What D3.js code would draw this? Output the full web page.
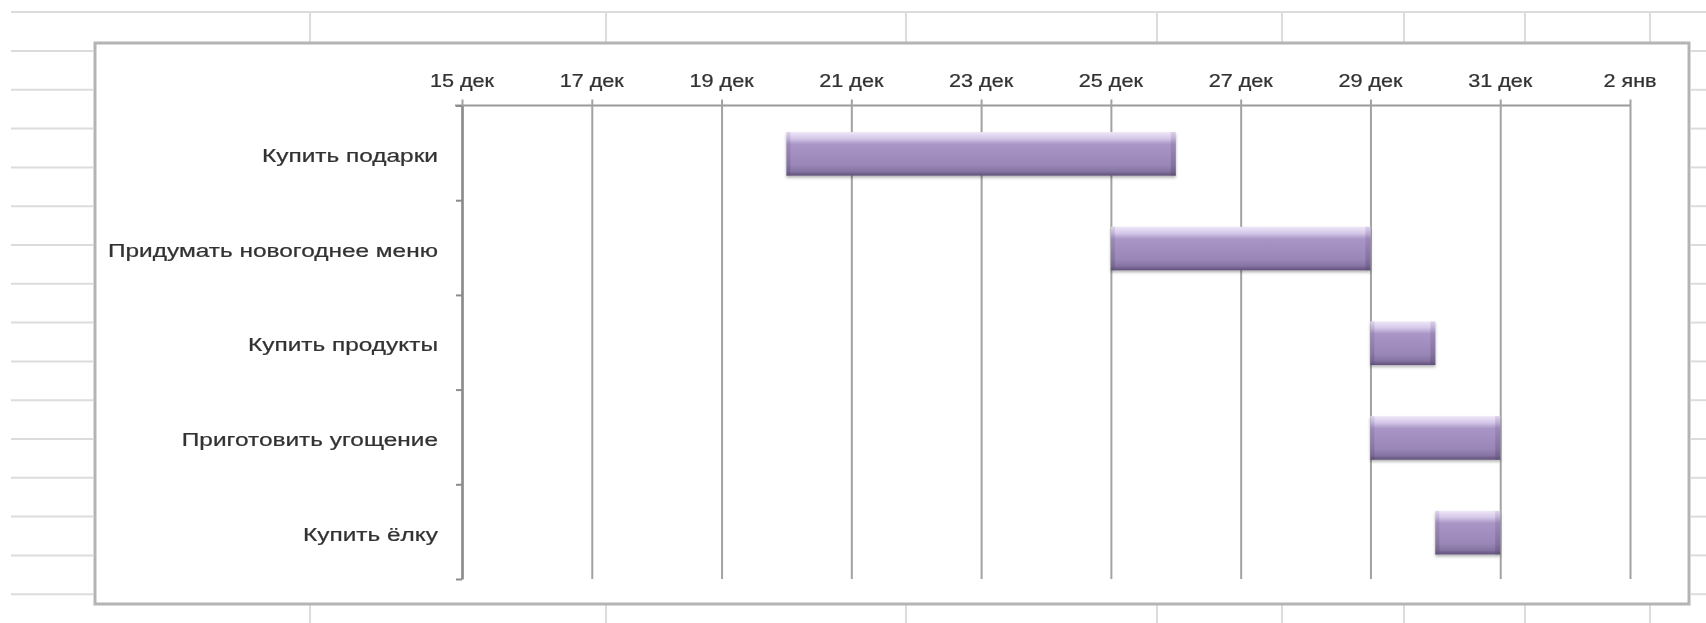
<!DOCTYPE html>
<html lang="ru">
<head>
    <meta charset="UTF-8">
    <title>Новогодний план</title>
    <script src="https://d3js.org/d3.v7.min.js"></script>
    <style>
        body { margin: 0; background: #fff; }
        text { font-family: "Liberation Sans", Arial, sans-serif; fill: #333; stroke: #333; stroke-width: 0.25; }
    </style>
</head>
<body>
    <svg width="1706" height="623"></svg>

    <script>
        // Tasks (top to bottom), start dates and durations in days
        const tasks = ["Купить подарки", "Придумать новогоднее меню", "Купить продукты", "Приготовить угощение", "Купить ёлку"];
        const startDates = ["2012-12-20", "2012-12-25", "2012-12-29", "2012-12-29", "2012-12-30"];
        const durations = [6, 4, 1, 2, 1];

        // Axis ticks
        const tickDates = ["2012-12-15", "2012-12-17", "2012-12-19", "2012-12-21", "2012-12-23",
                           "2012-12-25", "2012-12-27", "2012-12-29", "2012-12-31", "2013-01-02"];
        const tickLabels = ["15 дек", "17 дек", "19 дек", "21 дек", "23 дек", "25 дек", "27 дек", "29 дек", "31 дек", "2 янв"];

        const parse = d3.timeParse("%Y-%m-%d");
        const ticks = tickDates.map(parse);
        const data = tasks.map((t, i) => {
            const s = parse(startDates[i]);
            return { task: t, start: s, end: d3.timeDay.offset(s, durations[i]) };
        });

        const svg = d3.select("svg");
        const W = 1706, H = 623;

        // spreadsheet look behind the chart
        const frame = { left: 95, top: 43, right: 1689, bottom: 604 };
        const sheet = svg.append("g").attr("stroke", "#dcdcdc").attr("stroke-width", 2);
        sheet.append("line").attr("x1", 11).attr("x2", W).attr("y1", 12).attr("y2", 12);
        const colX = [310, 606, 906, 1157, 1282, 1404, 1525, 1650];
        colX.forEach(x => {
            sheet.append("line").attr("x1", x).attr("x2", x).attr("y1", 12).attr("y2", frame.top);
            sheet.append("line").attr("x1", x).attr("x2", x).attr("y1", frame.bottom).attr("y2", H);
        });
        d3.range(51, frame.bottom, 38.8).forEach(y => {
            sheet.append("line").attr("x1", 11).attr("x2", frame.left - 2).attr("y1", y).attr("y2", y);
            sheet.append("line").attr("x1", frame.right + 2).attr("x2", W).attr("y1", y).attr("y2", y);
        });

        // chart area frame
        svg.append("rect")
            .attr("x", frame.left).attr("y", frame.top)
            .attr("width", frame.right - frame.left).attr("height", frame.bottom - frame.top)
            .attr("fill", "#fff").attr("stroke", "#b4b4b4").attr("stroke-width", 3);

        const defs = svg.append("defs");
        const grad = defs.append("linearGradient").attr("id", "barFill")
            .attr("x1", 0).attr("x2", 0).attr("y1", 0).attr("y2", 1);
        [["0%", "#efe7f8"], ["15%", "#d4c7e8"], ["28%", "#a996c6"], ["75%", "#9a87b8"], ["90%", "#8674a3"], ["100%", "#5f5078"]]
            .forEach(([o, c]) => grad.append("stop").attr("offset", o).attr("stop-color", c));
        const edge = defs.append("linearGradient").attr("id", "barEdge")
            .attr("x1", 0).attr("x2", 0).attr("y1", 0).attr("y2", 1);
        [["0%", "#c9bbdd"], ["25%", "#8f7cad"], ["100%", "#5e5076"]]
            .forEach(([o, c]) => edge.append("stop").attr("offset", o).attr("stop-color", c));
        const shadow = defs.append("filter").attr("id", "shadow")
            .attr("x", "-5%").attr("y", "-20%").attr("width", "110%").attr("height", "150%");
        shadow.append("feDropShadow").attr("dx", 0).attr("dy", 2).attr("stdDeviation", 1.5)
            .attr("flood-color", "#000").attr("flood-opacity", 0.3);
        defs.append("filter").attr("id", "soft")
            .append("feGaussianBlur").attr("stdDeviation", 0.45);

        // scales
        const x = d3.scaleTime()
            .domain([ticks[0], ticks[ticks.length - 1]])
            .range([462, 1630]);
        const y = d3.scaleBand()
            .domain(tasks)
            .range([105.5, 579]);
        const yEdges = d3.scaleLinear().domain([0, tasks.length]).range(y.range());

        // vertical gridlines + top date axis
        const xAxis = svg.append("g")
            .attr("transform", `translate(0, ${y.range()[0]})`)
            .call(d3.axisTop(x).tickValues(ticks).tickSize(6).tickFormat(""));
        xAxis.select(".domain").attr("d", `M455,0H${x.range()[1]}`).attr("stroke", "#9a9a9a").attr("stroke-width", 2);
        xAxis.selectAll(".tick line")
            .attr("y1", y.range()[1] - y.range()[0])
            .attr("stroke", "#a2a2a2").attr("stroke-width", 2);

        svg.append("g").selectAll("text")
            .data(ticks)
            .join("text")
            .attr("transform", d => `translate(${x(d)}, 87) scale(1.2, 1)`)
            .attr("text-anchor", "middle")
            .attr("font-size", 18)
            .attr("filter", "url(#soft)")
            .text((d, i) => tickLabels[i]);

        // category axis
        const yAxis = svg.append("g")
            .attr("transform", `translate(${x.range()[0]}, 0)`)
            .call(d3.axisLeft(yEdges).ticks(tasks.length).tickSize(6).tickSizeOuter(0).tickFormat(""));
        yAxis.select(".domain").attr("stroke", "#8c8c8c").attr("stroke-width", 2.5);
        yAxis.selectAll(".tick line").attr("stroke", "#8c8c8c").attr("stroke-width", 2);

        svg.append("g").selectAll("text")
            .data(tasks)
            .join("text")
            .attr("transform", d => `translate(438, ${y(d) + y.bandwidth() / 2 + 9}) scale(1.32, 1)`)
            .attr("text-anchor", "end")
            .attr("font-size", 18.5)
            .attr("filter", "url(#soft)")
            .text(d => d);

        // bars
        const barH = y.bandwidth() * 0.46;
        const bars = svg.append("g").selectAll("g")
            .data(data)
            .join("g")
            .attr("filter", "url(#shadow)");
        bars.append("rect")
            .attr("x", d => x(d.start))
            .attr("y", d => y(d.task) + (y.bandwidth() - barH) / 2 + 1)
            .attr("width", d => x(d.end) - x(d.start))
            .attr("height", barH)
            .attr("fill", "url(#barFill)");
        bars.append("rect")
            .attr("x", d => x(d.start))
            .attr("y", d => y(d.task) + (y.bandwidth() - barH) / 2 + 1)
            .attr("width", 4)
            .attr("height", barH)
            .attr("fill", "url(#barEdge)")
            .attr("opacity", 0.45);
        bars.append("rect")
            .attr("x", d => x(d.end) - 5)
            .attr("y", d => y(d.task) + (y.bandwidth() - barH) / 2 + 1)
            .attr("width", 5)
            .attr("height", barH)
            .attr("fill", "url(#barEdge)")
            .attr("opacity", 0.5);
    </script>
</body>
</html>
